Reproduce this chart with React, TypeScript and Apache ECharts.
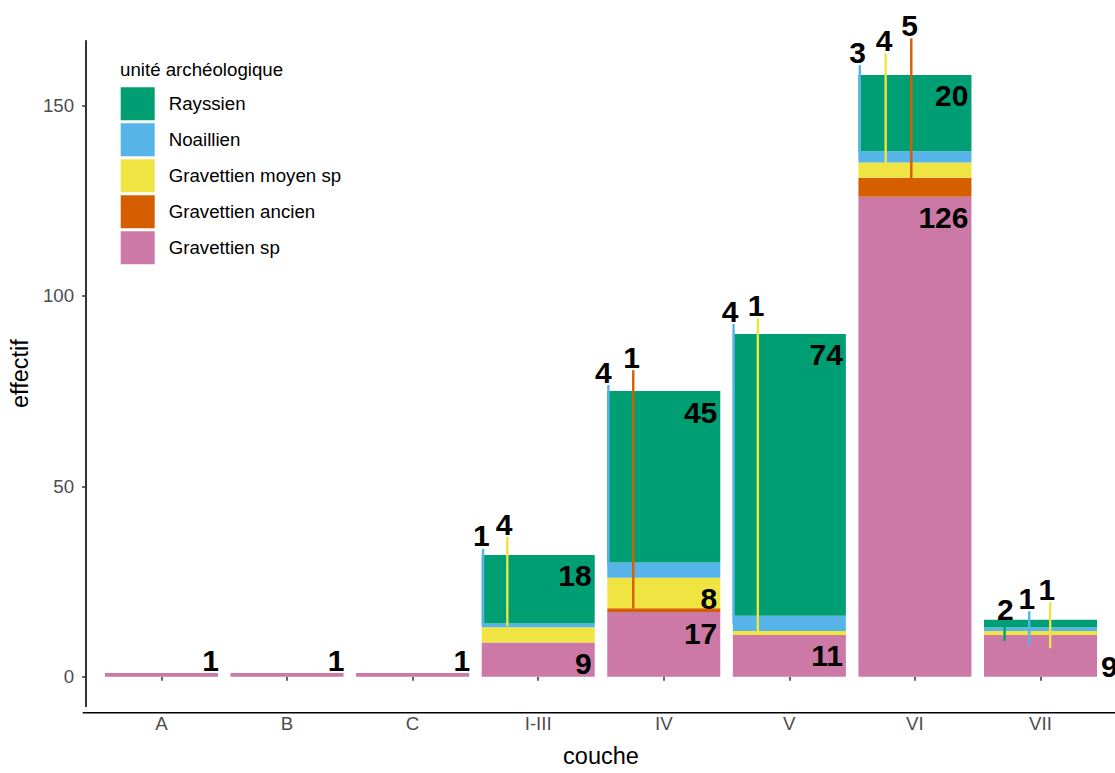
import React, { useEffect, useRef } from "react";
import * as echarts from "echarts";

// ---- data ----
const categories = ["A", "B", "C", "I-III", "IV", "V", "VI", "VII"];
const gravettienSp = [1, 1, 1, 9, 17, 11, 126, 11];
const gravettienAncien = [0, 0, 0, 0, 1, 0, 5, 0];
const gravettienMoyen = [0, 0, 0, 4, 8, 1, 4, 1];
const noaillien = [0, 0, 0, 1, 4, 4, 3, 1];
const rayssien = [0, 0, 0, 18, 45, 74, 20, 2];
const yTicks = [0, 50, 100, 150];

const seriesNames = ["Gravettien sp", "Gravettien ancien", "Gravettien moyen sp", "Noaillien", "Rayssien"];
const seriesValues = [gravettienSp, gravettienAncien, gravettienMoyen, noaillien, rayssien];
const seriesColors = ["#CC79A7", "#D55E00", "#F0E442", "#56B4E9", "#009E73"];
const legendOrder = ["Rayssien", "Noaillien", "Gravettien moyen sp", "Gravettien ancien", "Gravettien sp"];

// label text shown on the chart where it differs from the bar height
const labelTextOverride: Record<string, string> = { "Gravettien sp|VII": "9" };

// how each bar label is placed: "in" (inside top right), "above", "right", or repelled (see below)
const labelMode: Record<string, string> = {
  "Gravettien sp|A": "above",
  "Gravettien sp|B": "above",
  "Gravettien sp|C": "above",
  "Gravettien sp|VII": "right",
};

// repelled labels: line from `from` to `to` (data units), offsets in category-band units
const repelLabels = [
  { cat: "I-III", series: "Noaillien", lineX: -0.439, textX: -0.452, from: 13.7, to: 33.6 },
  { cat: "I-III", series: "Gravettien moyen sp", lineX: -0.246, textX: -0.272, from: 13.3, to: 36.7 },
  { cat: "IV", series: "Noaillien", lineX: -0.441, textX: -0.481, from: 29.3, to: 76.6 },
  { cat: "IV", series: "Gravettien ancien", lineX: -0.243, textX: -0.256, from: 17.9, to: 80.5 },
  { cat: "V", series: "Noaillien", lineX: -0.444, textX: -0.471, from: 14, to: 92.6 },
  { cat: "V", series: "Gravettien moyen sp", lineX: -0.251, textX: -0.264, from: 12.0, to: 94.1 },
  { cat: "VI", series: "Noaillien", lineX: -0.439, textX: -0.457, from: 136.5, to: 160.6 },
  { cat: "VI", series: "Gravettien moyen sp", lineX: -0.233, textX: -0.246, from: 133, to: 163.7 },
  { cat: "VI", series: "Gravettien ancien", lineX: -0.029, textX: -0.042, from: 128.5, to: 167.6 },
  { cat: "VII", series: "Rayssien", lineX: -0.286, textX: -0.28, from: 9.4, to: 14.3 },
  { cat: "VII", series: "Noaillien", lineX: -0.09, textX: -0.108, from: 8.5, to: 17.2 },
  { cat: "VII", series: "Gravettien moyen sp", lineX: 0.077, textX: 0.05, from: 7.5, to: 19.6 },
];

const FONT = '"Liberation Sans", Arial, Helvetica, sans-serif';
const labelFont = { color: "#000", fontSize: 30, fontWeight: "bold" as const, fontFamily: FONT };

function barLabel(sName: string, ci: number, v: number) {
  const key = sName + "|" + categories[ci];
  const repelled = repelLabels.some((r) => r.series === sName && r.cat === categories[ci]);
  if (v === 0 || repelled) return { show: false };
  const text = labelTextOverride[key] ?? String(v);
  const mode = labelMode[key] ?? "in";
  if (mode === "above")
    return { show: true, ...labelFont, formatter: text, position: ["100%", 0], align: "right", verticalAlign: "bottom", offset: [1, 3] };
  if (mode === "right")
    return { show: true, ...labelFont, formatter: text, position: ["100%", 0], align: "left", verticalAlign: "top", offset: [4, 17] };
  return { show: true, ...labelFont, formatter: text, position: "insideTopRight", distance: 3, offset: [0, 3] };
}

export default function App() {
  const ref = useRef<HTMLDivElement>(null);
  useEffect(() => {
    if (!ref.current) return;
    const chart = echarts.init(ref.current, null, { renderer: "svg" });
    const barSeries = seriesNames.map((name, si) => ({
      name,
      type: "bar",
      stack: "total",
      barCategoryGap: "10%",
      itemStyle: { color: seriesColors[si] },
      emphasis: { disabled: true },
      data: seriesValues[si].map((v, ci) => ({ value: v, label: barLabel(name, ci, v) })),
      z: 2,
    }));
    const repelSeries = {
      name: "repel",
      type: "custom",
      z: 10,
      clip: false,
      silent: true,
      encode: { x: 0, y: 1 },
      data: repelLabels.map((r) => [categories.indexOf(r.cat), r.to]),
      renderItem: (params: any, api: any) => {
        const r = repelLabels[params.dataIndex];
        const ci = categories.indexOf(r.cat);
        const si = seriesNames.indexOf(r.series);
        const band = api.size([1, 0])[0];
        const top = api.coord([ci, r.to]);
        const bot = api.coord([ci, r.from]);
        const lx = top[0] + r.lineX * band;
        const tx = top[0] + r.textX * band;
        return {
          type: "group",
          children: [
            {
              type: "line",
              shape: { x1: lx, y1: bot[1], x2: lx, y2: top[1] },
              style: { stroke: seriesColors[si], lineWidth: 2.4 },
            },
            {
              type: "text",
              x: tx,
              y: top[1] + 2,
              style: {
                text: String(seriesValues[si][ci]),
                fill: "#000",
                fontSize: 30,
                fontWeight: "bold",
                fontFamily: FONT,
                align: "center",
                verticalAlign: "bottom",
              },
            },
          ],
        };
      },
    };
    chart.setOption({
      animation: false,
      title: {
        text: "unité archéologique",
        left: 120,
        top: 60,
        padding: 0,
        textStyle: { fontSize: 18.7, fontWeight: "normal", color: "#000", fontFamily: FONT },
      },
      legend: {
        data: legendOrder,
        orient: "vertical",
        left: 120.7,
        top: 87.3,
        padding: 0,
        itemWidth: 34,
        itemHeight: 33,
        itemGap: 3,
        icon: "rect",
        selectedMode: false,
        textStyle: { fontSize: 18.7, color: "#000", fontFamily: FONT, padding: [0, 0, 0, 9] },
      },
      grid: { left: 95.3, right: 11.7, top: 40.7, bottom: 60.3, containLabel: false },
      xAxis: {
        type: "category",
        data: categories,
        axisLine: { show: false },
        axisTick: { show: true, alignWithLabel: true, length: 4, lineStyle: { color: "#333", width: 1.5 } },
        axisLabel: { color: "#4D4D4D", fontSize: 18.7, fontFamily: FONT, margin: 7 },
        name: "couche",
        nameLocation: "middle",
        nameGap: 37.5,
        nameTextStyle: { fontSize: 23.5, color: "#000", fontFamily: FONT },
      },
      yAxis: {
        type: "value",
        min: -7.8,
        max: 167,
        offset: 12.6,
        splitLine: { show: false },
        axisLine: { show: true, lineStyle: { color: "#000", width: 1.6 } },
        axisTick: { show: true, length: 4, customValues: yTicks, lineStyle: { color: "#333", width: 1.5 } },
        axisLabel: { color: "#4D4D4D", fontSize: 18.7, fontFamily: FONT, margin: 12, customValues: yTicks },
        name: "effectif",
        nameLocation: "middle",
        nameRotate: 90,
        nameGap: 49,
        nameTextStyle: { fontSize: 23.5, color: "#000", fontFamily: FONT },
      },
      graphic: [
        {
          type: "line",
          shape: { x1: 82.7, y1: 712.7, x2: 1115, y2: 712.7 },
          style: { stroke: "#000", lineWidth: 1.6 },
          z: 5,
        },
      ],
      series: [...barSeries, repelSeries],
    });
    return () => chart.dispose();
  }, []);
  return <div ref={ref} style={{ position: "absolute", left: 0, top: 0, width: 1115, height: 773 }} />;
}
